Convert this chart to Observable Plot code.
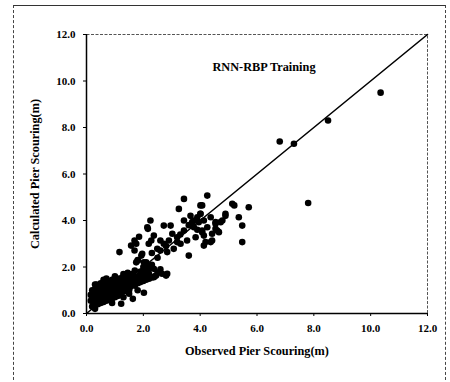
<!DOCTYPE html>
<html>
<head>
<meta charset="utf-8">
<script src="https://cdn.jsdelivr.net/npm/d3@7"></script>
<script src="https://cdn.jsdelivr.net/npm/@observablehq/plot@0.6"></script>
<style>
  html, body { margin: 0; padding: 0; background: white; }
  #wrap { position: relative; width: 450px; height: 382px; overflow: hidden; }
  #border { position: absolute; left: 13px; top: 5px; width: 433px; height: 380px; border: 1px dashed #444; border-top: 1px solid #333; box-sizing: border-box; pointer-events: none; }
</style>
</head>
<body>
<div id="wrap"><div id="border"></div></div>
<script>
const chartTitle = "RNN-RBP Training";
const xLabel = "Observed Pier Scouring(m)";
const yLabel = "Calculated Pier Scouring(m)";
const xTicks = [0, 2, 4, 6, 8, 10, 12];
const yTicks = [0, 2, 4, 6, 8, 10, 12];
const idealLine = [[0, 0], [12, 12]];

// observed, calculated
const clusterPoints = [
  [0.15,0.55],[0.2,0.6],[0.2,0.75],[0.25,0.45],[0.25,0.9],[0.3,0.35],[0.3,0.65],[0.3,1.05],[0.35,0.5],[0.35,0.8],
  [0.35,1.25],[0.4,0.4],[0.4,0.7],[0.4,0.95],[0.45,0.55],[0.45,0.85],[0.45,1.1],[0.5,0.45],[0.5,0.65],[0.5,0.9],
  [0.5,1.15],[0.55,0.6],[0.55,0.8],[0.55,1.0],[0.6,0.5],[0.6,0.7],[0.6,0.95],[0.6,1.2],[0.65,0.6],[0.65,0.85],
  [0.65,1.05],[0.7,0.55],[0.7,0.75],[0.7,1.0],[0.7,1.3],[0.75,0.65],[0.75,0.9],[0.75,1.15],[0.8,0.6],[0.8,0.8],
  [0.8,1.05],[0.8,1.35],[0.85,0.7],[0.85,0.95],[0.85,1.2],[0.9,0.65],[0.9,0.85],[0.9,1.1],[0.9,1.45],[0.95,0.75],
  [0.95,1.0],[0.95,1.25],[1.0,0.7],[1.0,0.9],[1.0,1.15],[1.0,1.4],[1.05,0.8],[1.05,1.05],[1.05,1.3],[1.1,0.75],
  [1.1,0.95],[1.1,1.2],[1.1,1.5],[1.15,0.85],[1.15,1.1],[1.15,1.35],[1.2,0.9],[1.2,1.15],[1.2,1.45],[1.25,1.0],
  [1.25,1.25],[1.25,1.55],[1.3,0.95],[1.3,1.2],[1.3,1.4],[1.35,1.05],[1.35,1.3],[1.35,1.6],[1.4,1.1],[1.4,1.4],
  [1.45,1.2],[1.45,1.5],[1.5,1.0],[1.5,1.3],[1.5,1.6],[1.55,1.15],[1.55,1.45],[1.6,1.25],[1.6,1.55],[1.65,1.35],
  [1.7,1.2],[1.7,1.5],[1.75,1.4],[1.8,1.3],[1.8,1.6],[1.85,1.45],[1.9,1.35],[1.95,1.5],[2.0,1.4],[2.05,1.6],
  [2.1,1.45],[2.2,1.5],[2.3,1.55],[2.4,1.6],
  [0.3,0.2],[0.2,0.3],[0.5,1.3],[0.4,1.2],[0.3,1.25],[0.6,1.45],[1.22,0.42],[1.63,0.63],[2.02,0.89],[1.3,0.7],
  [0.9,0.45],[1.5,0.85],[1.8,1.0],[1.0,1.6],[0.7,1.5],[1.3,1.7],[0.2,1.0],[0.15,0.8],[2.45,1.63],[2.8,1.63],
  [1.75,2.2],[2.1,2.06],[1.8,2.3],[2.0,2.0],[2.2,1.9],[2.3,2.1],[1.9,1.8],[2.1,2.2],[2.66,1.71],[2.84,1.71],
  [2.08,1.78],[2.37,1.92],[2.37,1.56],[1.6,1.7],[1.9,1.65],[2.2,1.7],[2.5,1.75],[1.45,1.75],[1.7,1.85],[2.6,1.9]
];
const bandPoints = [
  [4.25,5.07],[3.43,4.93],[3.25,4.5],[4.07,4.65],[2.25,4.0],[2.14,3.71],[2.72,3.78],[2.96,3.78],[3.66,4.2],[4.01,4.29],
  [4.72,3.93],[4.66,3.5],[4.42,3.43],[4.13,2.92],[4.37,3.07],[3.6,2.49],[3.54,3.14],[3.19,3.07],[3.43,3.57],[3.78,3.71],
  [2.37,3.35],[2.6,3.14],[2.9,3.14],[2.49,2.78],[2.19,3.0],[1.96,2.57],[2.02,2.2],[2.84,2.64],[3.07,2.78],[3.31,3.0],
  [3.84,3.28],[4.07,3.5],[4.25,3.71],[4.54,3.86],[3.95,3.93],[3.72,3.93],[3.43,4.0],[4.37,4.14],[4.89,4.2],
  [1.69,3.14],[1.57,2.92],[1.69,2.71],[2.16,3.64],[1.16,2.64],[1.81,2.28],[1.93,2.49],[2.28,3.14],[1.85,3.3],[1.75,3.0],
  [5.13,4.72],[5.2,4.65],[5.71,4.57],[4.89,4.29],[5.36,4.14],[4.78,4.0],[5.48,3.78],[4.54,3.93],[4.54,3.64],[4.6,3.57],
  [5.48,3.07],[4.42,3.14],[4.19,3.07],[4.13,3.35],[4.07,3.57],[4.13,4.0],[4.01,4.65],[3.02,3.43],[3.19,3.28],[3.78,4.0],
  [3.9,4.14],[4.01,4.29],[2.6,2.71],[2.72,3.0],[3.6,3.8],[3.3,3.4],[2.8,2.9],[2.5,2.4],[2.3,2.6],[3.9,3.6]
];
const outlierPoints = [
  [6.8,7.4],[7.3,7.3],[8.5,8.3],[10.35,9.5],[7.8,4.75]
];
const points = [...clusterPoints, ...bandPoints, ...outlierPoints];

const fmt = d => d.toFixed(1);
const font = "'Liberation Serif', 'Times New Roman', serif";

const chart = Plot.plot({
  width: 450,
  height: 382,
  marginLeft: 86,
  marginRight: 23,
  marginTop: 34,
  marginBottom: 69,
  style: { fontFamily: font, fontSize: "11px", fontWeight: "bold", background: "transparent", color: "black" },
  x: { domain: [0, 12] },
  y: { domain: [0, 12] },
  marks: [
    Plot.frame({ stroke: "#555", strokeDasharray: "3,1.5", strokeWidth: 1 }),
    Plot.ruleX([0], { stroke: "black", strokeWidth: 1.5 }),
    Plot.ruleY([0], { stroke: "black", strokeWidth: 1.5 }),
    Plot.line(idealLine, { x: d => d[0], y: d => d[1], stroke: "black", strokeWidth: 1.6 }),
    Plot.dot(points, { x: d => d[0], y: d => d[1], r: 3.3, fill: "black", stroke: "none" }),
    Plot.axisX({ ticks: xTicks, tickFormat: fmt, tickSize: 3, tickPadding: 8, label: null, fontSize: 11 }),
    Plot.axisY({ ticks: yTicks, tickFormat: fmt, tickSize: 3, tickPadding: 8, label: null, fontSize: 11 }),
    Plot.text([chartTitle], { frameAnchor: "top", lineAnchor: "middle", textAnchor: "middle", dy: 33, dx: 7, text: d => d, fontSize: 12.3, fontWeight: "bold", fontFamily: font }),
    Plot.text([xLabel], { frameAnchor: "bottom", lineAnchor: "middle", textAnchor: "middle", dy: 38, text: d => d, fontSize: 12.3, fontWeight: "bold", fontFamily: font }),
    Plot.text([yLabel], { frameAnchor: "left", lineAnchor: "middle", textAnchor: "middle", dx: -51, rotate: -90, text: d => d, fontSize: 12.3, fontWeight: "bold", fontFamily: font })
  ]
});
chart.style.position = "absolute";
chart.style.left = "0px";
chart.style.top = "0px";
document.getElementById("wrap").appendChild(chart);
</script>
</body>
</html>
